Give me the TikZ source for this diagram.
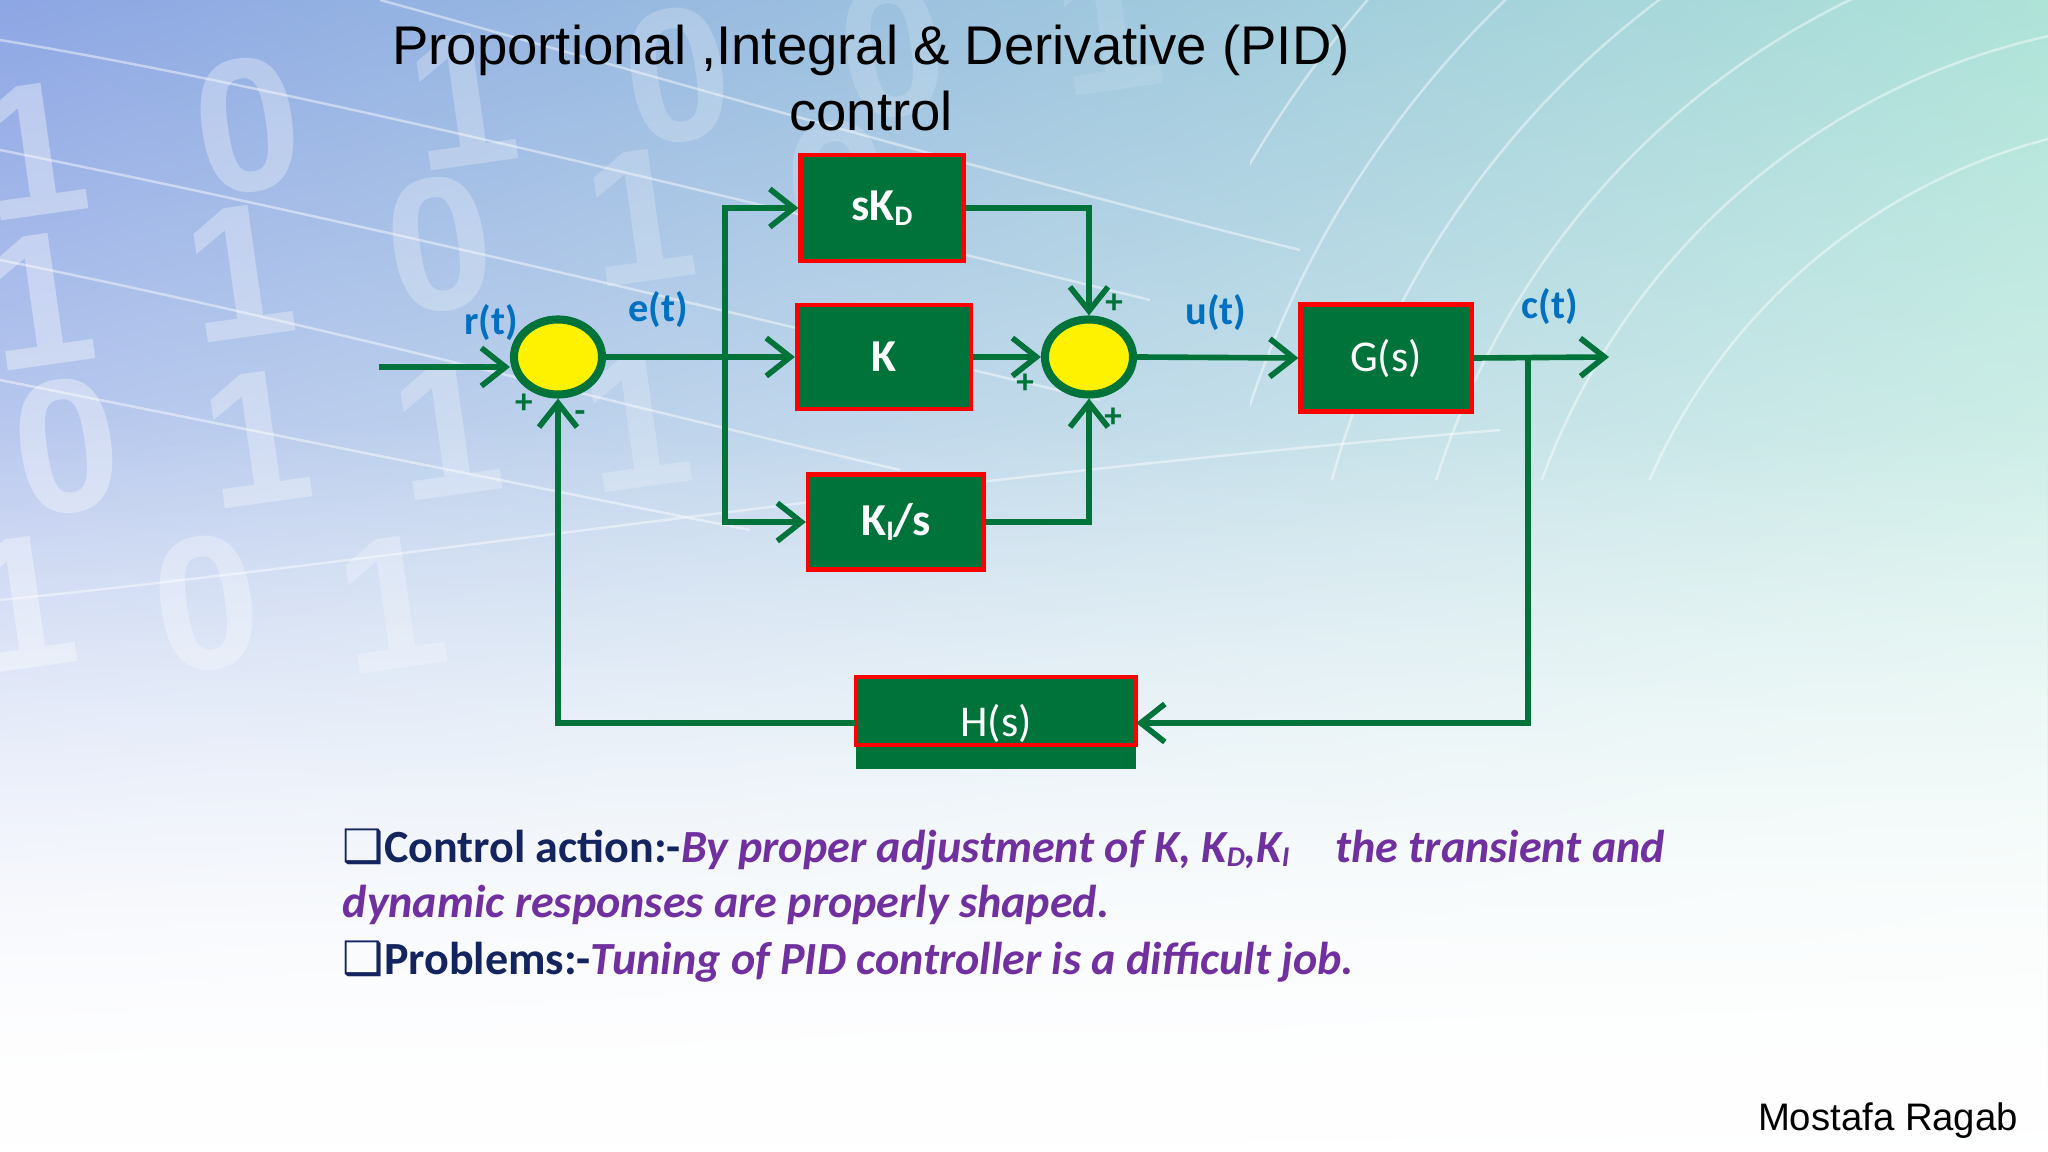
\documentclass[tikz,border=0pt]{standalone}
\usepackage{fontspec}
\setmainfont{Carlito}
\newfontfamily\arialfont{Liberation Sans}
\newfontfamily\symfont{DejaVu Sans}
\usepackage{tikz}
\usetikzlibrary{positioning,shapes,arrows.meta,calc,shadings,fadings}
\definecolor{pidgreen}{HTML}{00733A}
\definecolor{pidred}{HTML}{FF0000}
\definecolor{sigblue}{HTML}{0070C0}
\definecolor{notepurple}{HTML}{7030A0}
\definecolor{notenavy}{HTML}{14245E}
\definecolor{skyblue}{HTML}{8DA6E4}
\definecolor{mintgreen}{HTML}{AEE3D8}
\tikzfading[name=fadedown, top color=transparent!100, bottom color=transparent!0]
\newcommand{\lsub}[1]{\raisebox{-0.2ex}{\scalebox{0.62}{#1}}}

\begin{document}
\begin{tikzpicture}[x=0.01cm, y=-0.01cm,
  block/.style={rectangle, fill=pidgreen, draw=pidred, line width=1.2pt, text=white, inner sep=0pt, font=\fontsize{13}{15}\selectfont\bfseries},
  sumnode/.style={ellipse, fill=yellow, draw=pidgreen, line width=2.3pt, minimum width=0.88cm, minimum height=0.75cm, inner sep=0pt},
  wire/.style={draw=pidgreen, line width=1.6pt},
  flow/.style={wire, -{Straight Barb[length=2.4mm, width=3.8mm, line width=1.6pt]}},
  siglabel/.style={text=sigblue, font=\fontsize{11.5}{14}\selectfont\bfseries},
  signlabel/.style={text=pidgreen, font=\fontsize{10}{12}\selectfont\bfseries},
  bgdigit/.style={text=white, font=\arialfont\fontsize{54}{54}\selectfont\bfseries, rotate=8},
  bgline/.style={draw=white, opacity=0.45, line width=0.7pt}]
  \useasboundingbox (0,0) rectangle (2048,1152);
  \shade[upper left=skyblue, upper right=mintgreen, lower left=white, lower right=white] (0,0) rectangle (2048,1152);
  \fill[white, path fading=fadedown] (0,420) rectangle (2048,1152);

  \foreach \row/\digits/\sx/\sy/\dx/\dy in {a/{1,0,1,0,0,1}/33/150/215/-25, b/{1,1,0,1,0}/40/300/200/-28, c/{0,1,1,1}/67/446/190/-8, d/{1,0,1}/22/603/185/0}
  {
    \foreach \d [count=\i from 0] in \digits
    {
      \pgfmathsetmacro\op{0.36-0.05*\i}
      \node[bgdigit, opacity=\op] (dg\row\i) at ({\sx+\dx*\i},{\sy+\dy*\i}) {\d};
    }
  }
  \draw[bgline] (0,40) .. controls (300,90) and (700,190) .. (1150,300);
  \draw[bgline] (380,0) .. controls (600,60) and (900,150) .. (1300,250);
  \draw[bgline] (0,150) .. controls (400,230) and (800,330) .. (1100,400);
  \draw[bgline] (0,260) .. controls (300,320) and (600,400) .. (900,470);
  \draw[bgline] (0,380) .. controls (250,430) and (500,480) .. (750,530);
  \draw[bgline] (0,600) .. controls (400,560) and (900,480) .. (1500,430);
  \begin{scope}
    \clip (1250,0) rectangle (2048,480);
    \foreach \rad in {6,7,8,9,10,11}
      \draw[bgline] (2200,720) circle[radius=\rad cm];
  \end{scope}

  \node[align=center, font=\arialfont\fontsize{15.5}{18.5}\selectfont] (title) at (871,78) {Proportional ,Integral \& Derivative (PID)\\control};

  \node[sumnode] (sumA) at (558,357) {};
  \node[sumnode] (sumB) at (1089,357) {};
  \node[block, minimum width=1.63cm, minimum height=1.06cm] (kd) at (882,208) {sK\lsub{D}};
  \node[block, minimum width=1.74cm, minimum height=1.04cm] (kp) at (884,357) {K};
  \node[block, minimum width=1.76cm, minimum height=0.95cm] (ki) at (896,522) {K\lsub{I}/s};
  \node[block, minimum width=1.71cm, minimum height=1.07cm, font=\fontsize{12.5}{15}\selectfont] (gs) at (1386,358) {G(s)};
  \node[fill=pidgreen, text=white, inner sep=0pt, minimum width=2.79cm, minimum height=0.91cm, font=\fontsize{12.5}{15}\selectfont] (hs) at (996,723) {H(s)};
  \draw[draw=pidred, line width=1.2pt] (hs.north west) rectangle (hs.east |- 0,745);

  \coordinate (in) at (379,367);
  \coordinate (split) at (725,357);
  \coordinate (tap) at (1528,357);
  \coordinate (out) at (1609,357);

  \draw[flow] (in) -- (in -| sumA.west);
  \draw[flow] (sumA.east) -- (kp.west);
  \draw[flow] (split) |- (kd.west);
  \draw[flow] (split) |- (ki.west);
  \draw[flow] (kd.east) -| (sumB.north);
  \draw[flow] (kp.east) -- (sumB.west);
  \draw[flow] (ki.east) -| (sumB.south);
  \draw[flow] (sumB.east) -- (gs.west);
  \draw[flow] (gs.east) -- (out);
  \draw[flow] (tap) |- (hs.east);
  \draw[flow] (hs.west) -| (sumA.south);

  \node[siglabel] (rlab) at (491,323) {r(t)};
  \node[siglabel] (elab) at (658,310) {e(t)};
  \node[siglabel] (ulab) at (1216,313) {u(t)};
  \node[siglabel] (clab) at (1550,307) {c(t)};
  \node[signlabel] (plusA) at (524,404) {+};
  \node[signlabel] (minusA) at (580,417) {-};
  \node[signlabel] (plusB1) at (1114,304) {+};
  \node[signlabel] (plusB2) at (1025,384) {+};
  \node[signlabel] (plusB3) at (1113,418) {+};

  \node[anchor=base west, inner sep=0pt, font=\fontsize{13.1}{16}\selectfont\bfseries] (noteA) at (342,862) {{\color{notenavy}{\symfont ❑}Control action:-}{\color{notepurple}\itshape By proper adjustment of K, K\lsub{D},K\lsub{I}\quad the transient and}};
  \node[anchor=base west, inner sep=0pt, font=\fontsize{13.1}{16}\selectfont\bfseries\itshape, text=notepurple] (noteB) at (342,917) {dynamic responses are properly shaped.};
  \node[anchor=base west, inner sep=0pt, font=\fontsize{13.1}{16}\selectfont\bfseries] (noteC) at (342,974) {{\color{notenavy}{\symfont ❑}Problems:-}{\color{notepurple}\itshape Tuning of PID controller is a difficult job.}};

  \node[font=\arialfont\fontsize{10.9}{13}\selectfont] (author) at (1888,1121) {Mostafa Ragab};
\end{tikzpicture}
\end{document}
